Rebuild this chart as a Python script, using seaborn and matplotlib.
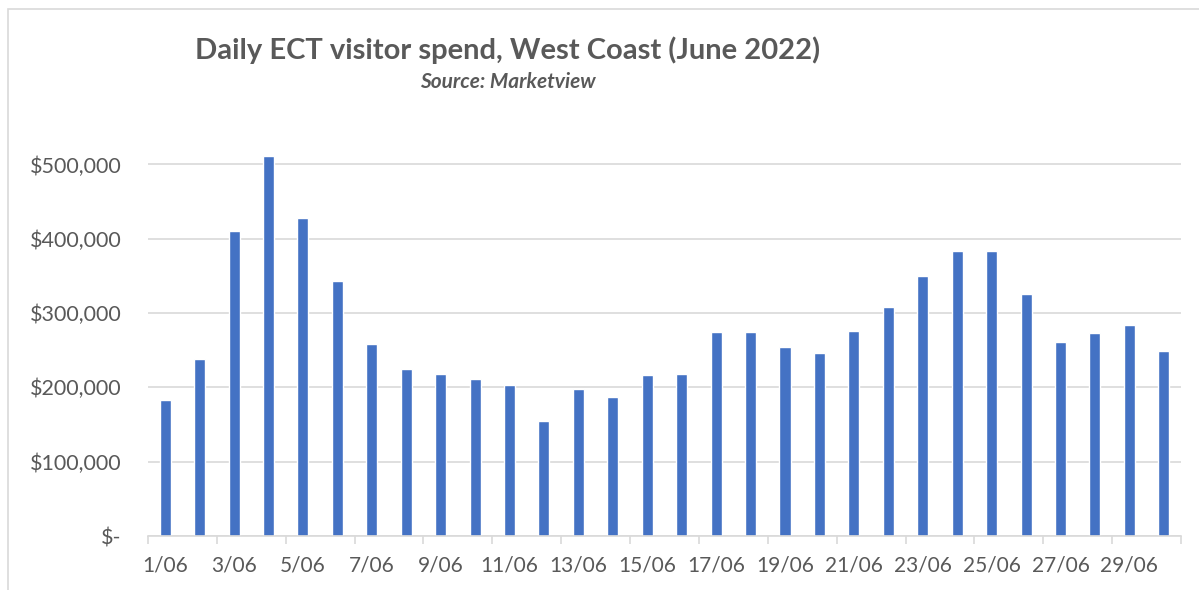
#import libraries
import pandas as pd
import matplotlib.pyplot as plt
import seaborn as sns
import numpy as np
from matplotlib.patches import Rectangle

#data
days = [f'{d}/06' for d in range(1, 31)]
spend = [183600, 238800, 410200, 511700, 427300, 342900, 259000, 224900, 218600, 211800,
         203800, 154400, 197900, 187200, 217200, 218600, 275100, 274700, 254500, 246000,
         275600, 308800, 350500, 383300, 382900, 325000, 260800, 273300, 284100, 248700]
ytick_vals = [0, 100000, 200000, 300000, 400000, 500000]
ytick_labels = ['$-', '$100,000', '$200,000', '$300,000', '$400,000', '$500,000']

df = pd.DataFrame({'day': days, 'spend': spend})

sns.set_style('white')
plt.rcParams['font.family'] = ['Lato', 'DejaVu Sans']
grey = '#595959'

fig = plt.figure(figsize=(11.99, 5.9), dpi=100)
ax = fig.add_axes([0.1234, 0.0915, 0.8616, 0.655])

#chart border
fig.patches.append(Rectangle((8 / 1199, -0.1), 1.2, 1 - 9 / 590 + 0.1, transform=fig.transFigure,
                             fill=False, edgecolor='#d9d9d9', linewidth=1.2))

b = sns.barplot(data=df, x='day', y='spend', color='#4472C4', width=0.32, saturation=1, ax=ax)

ax.set_xlim(-0.5, len(days) - 0.5)
ax.set_ylim(0, 520000)
ax.set_yticks(ytick_vals)
ax.set_yticklabels(ytick_labels, fontsize=15.5, color=grey)
ax.yaxis.grid(True, color='#d9d9d9', linewidth=1.2)
ax.set_axisbelow(True)

#tick marks between every second category, labels on odd days
ax.set_xticks(np.arange(-0.5, len(days), 2))
ax.set_xticklabels([])
ax.set_xticks(np.arange(0, len(days), 2), minor=True)
ax.set_xticklabels(days[::2], minor=True, fontsize=15, color=grey)
ax.tick_params(axis='x', which='major', length=6, color='#d9d9d9', width=1.2, bottom=True)
ax.tick_params(axis='x', which='minor', length=0, pad=14)
ax.tick_params(axis='y', length=0, pad=19)

for s in ['top', 'right', 'left']:
    ax.spines[s].set_visible(False)
ax.spines['bottom'].set_color('#d9d9d9')
ax.spines['bottom'].set_linewidth(1.2)

ax.set_xlabel('')
ax.set_ylabel('')

fig.text(508 / 1199, 1 - 50 / 590, 'Daily ECT visitor spend, West Coast (June 2022)',
         ha='center', va='center', fontsize=21, fontweight='bold', color=grey)
fig.text(508 / 1199, 1 - 82 / 590, 'Source: Marketview', ha='center', va='center',
         fontsize=15, fontweight='bold', fontstyle='italic', color=grey)

fig.savefig('out.png', dpi=100)
